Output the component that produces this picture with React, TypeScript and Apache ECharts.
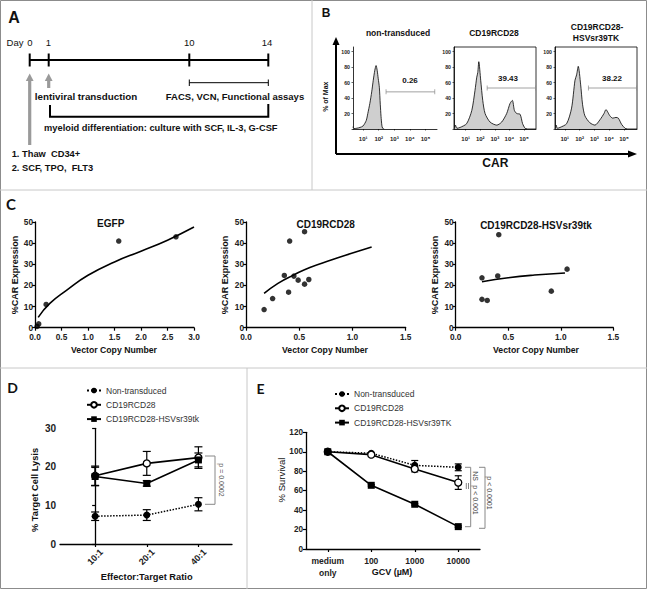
import React, { useEffect, useRef } from "react";
import * as echarts from "echarts";

const FONT = "'Liberation Sans', Arial, Helvetica, sans-serif";
const FONT2 = "Lato, 'Open Sans', sans-serif";

// ---------- Panel B: histograms [log10(CAR), % of Max] ----------
const histNonTransduced = [
  [0.35, 3], [0.4, 0.5], [0.6, 1], [0.8, 2], [1.0, 4], [1.2, 11], [1.3, 20], [1.43, 33],
  [1.55, 48], [1.65, 63], [1.75, 76], [1.83, 82], [1.9, 76], [1.97, 65], [2.04, 54],
  [2.1, 32], [2.15, 16], [2.2, 5], [2.25, 1], [2.35, 0],
];
const histCD19RCD28 = [
  [0.22, 0], [0.3, 5], [0.4, 1], [0.62, 2], [1.07, 7], [1.42, 24], [1.64, 50], [1.76, 67],
  [1.83, 73], [1.9, 87], [2.03, 63], [2.17, 37], [2.33, 20], [2.67, 9], [3.13, 5], [3.47, 9],
  [3.81, 20], [4.04, 33], [4.2, 37], [4.34, 24], [4.5, 20], [4.73, 19], [4.9, 7], [5.07, 1], [5.2, 0],
];
const histHSV = [
  [0.36, 0], [0.42, 5], [0.5, 1], [0.68, 2], [1.13, 7], [1.46, 27], [1.69, 63], [1.8, 70],
  [1.91, 81], [2.07, 58], [2.2, 32], [2.36, 17], [2.7, 8], [3.04, 5], [3.38, 12], [3.65, 20],
  [3.78, 25], [4.05, 17], [4.24, 14], [4.46, 15], [4.62, 14], [4.84, 6], [5.07, 1], [5.2, 0],
];
const histTicks = [1, 2, 3, 4, 5];
const histTickLabels = ["10¹", "10²", "10³", "10⁴", "10⁵"];
const histYLabels = [20, 40, 60, 80, 100];
const gateNon = [[2.47, 48], [5.6, 48]];
const gateCD = [[2.47, 53], [5.78, 53]];
const gateHSV = [[2.59, 53], [5.86, 53]];
const gateValues = ["0.26", "39.43", "38.22"];

// ---------- Panel C: %CAR vs vector copy number ----------
const egfpPoints = [[0.04, 0.6], [0.07, 1.8], [0.21, 11], [1.58, 41], [2.66, 43]];
const egfpFit = [[0.06, 4.9], [0.28, 11.5], [0.6, 17.8], [1.0, 24.8], [1.5, 31.1], [2.0, 36.2], [2.5, 41.4], [3.0, 47.6]];
const cdPoints = [
  [0.17, 8.6], [0.25, 13.8], [0.36, 24.7], [0.45, 24.4], [0.41, 41], [0.4, 16.8],
  [0.49, 22.5], [0.55, 45.4], [0.55, 20.6], [0.59, 22.8],
];
const cdFit = [[0.17, 16.2], [0.3, 21], [0.45, 25], [0.6, 28.5], [0.8, 32], [1.0, 35.3], [1.18, 38.2]];
const hsvPoints = [[0.25, 23.6], [0.25, 13.4], [0.3, 12.9], [0.4, 24.5], [0.41, 44], [0.91, 17.3], [1.06, 27.7]];
const hsvFit = [[0.25, 21.7], [0.5, 23.6], [0.75, 24.9], [1.04, 25.9]];

// ---------- Panel D: target cell lysis ----------
const ratioLabels = ["10:1", "20:1", "40:1"];
const dNon = [7.2, 7.5, 10.3];
const dNonErr = [1.1, 1.4, 1.7];
const dCD = [17.7, 20.9, 22.4];
const dCDErr = [2.5, 3.1, 2.8];
const dHSV = [17.5, 15.7, 21.8];
const dHSVErr = [2.4, 0.7, 1.8];

// ---------- Panel E: survival vs GCV ----------
const gcvLabels = ["medium\nonly", "100", "1000", "10000"];
const eNon = [100, 98.5, 86, 84];
const eNonErr = [0, 0, 5, 3.5];
const eCD = [100, 97, 82.3, 68.3];
const eCDErr = [0, 0, 3, 7];
const eHSV = [100, 65.5, 46, 23];
const eHSVErr = [0, 0.8, 0.8, 0.8];

const legendD = ["Non-transduced", "CD19RCD28", "CD19RCD28-HSVsr39tk"];
const legendE = ["Non-transduced", "CD19RCD28", "CD19RCD28-HSVsr39TK"];

function T(text: string, x: number, y: number, size: number, o: any = {}) {
  return {
    type: "text",
    x,
    y,
    rotation: o.rot || 0,
    silent: true,
    style: {
      text,
      fontSize: size,
      fontWeight: o.bold === false ? "normal" : "bold",
      fontFamily: o.family || FONT,
      fill: o.fill || "#111",
      align: o.align || "center",
      verticalAlign: "middle",
    },
  };
}
function L(x1: number, y1: number, x2: number, y2: number, w = 1, c = "#000") {
  return { type: "line", silent: true, shape: { x1, y1, x2, y2 }, style: { stroke: c, lineWidth: w } };
}
function PL(points: number[][], w = 1, c = "#000") {
  return { type: "polyline", silent: true, shape: { points }, style: { stroke: c, lineWidth: w, fill: "none" } };
}
function PG(points: number[][], c = "#000") {
  return { type: "polygon", silent: true, shape: { points }, style: { fill: c } };
}

function errorSeries(xi: number, vals: number[], errs: number[], w: number) {
  return {
    type: "custom",
    xAxisIndex: xi,
    yAxisIndex: xi,
    silent: true,
    z: 1,
    encode: { x: 0, y: 1 },
    data: vals.map((v, i) => [i, v, errs[i]]),
    renderItem: (params: any, api: any) => {
      const x = api.value(0);
      const y = api.value(1);
      const e = api.value(2);
      if (!e) return { type: "group", children: [] };
      const hi = api.coord([x, y + e]);
      const lo = api.coord([x, y - e]);
      const st = { stroke: "#000", lineWidth: 1.2 };
      return {
        type: "group",
        children: [
          { type: "line", shape: { x1: hi[0], y1: hi[1], x2: lo[0], y2: lo[1] }, style: st },
          { type: "line", shape: { x1: hi[0] - w, y1: hi[1], x2: hi[0] + w, y2: hi[1] }, style: st },
          { type: "line", shape: { x1: lo[0] - w, y1: lo[1], x2: lo[0] + w, y2: lo[1] }, style: st },
        ],
      };
    },
  };
}

export default function App() {
  const ref = useRef<HTMLDivElement>(null);
  useEffect(() => {
    if (!ref.current) return;
    const chart = echarts.init(ref.current, null, { renderer: "svg" });

    const histGrid = (left: number, width: number, box: boolean) => ({
      left, top: 47, width, height: 82, show: box, borderColor: "#000", borderWidth: 0.8,
      backgroundColor: "transparent", outerBoundsMode: "none",
    });
    const histX = (gi: number, min: number, max: number) => ({
      type: "value", gridIndex: gi, min, max,
      axisLine: { show: true, lineStyle: { color: "#000", width: 0.8 } },
      axisTick: { show: true, length: 1.5, customValues: histTicks, lineStyle: { color: "#000", width: 0.6 } },
      axisLabel: {
        customValues: histTicks, margin: 7, fontSize: 6, fontWeight: "bold", fontFamily: FONT, color: "#222",
        formatter: (v: number) => histTickLabels[histTicks.indexOf(Math.round(v))] || "",
      },
      splitLine: { show: false },
    });
    const histY = (gi: number) => ({
      type: "value", gridIndex: gi, min: 0, max: 106,
      axisLine: { show: true, lineStyle: { color: "#000", width: 0.8 } },
      axisTick: { show: true, length: 1.5, customValues: [0, ...histYLabels], lineStyle: { color: "#000", width: 0.6 } },
      axisLabel: { customValues: histYLabels, margin: 3, fontSize: 5.2, fontWeight: "bold", fontFamily: FONT, color: "#222" },
      splitLine: { show: false },
    });

    const axLine = { show: true, lineStyle: { color: "#000", width: 1.3 } };
    const axTick = { show: true, length: 3, lineStyle: { color: "#000", width: 1.2 } };
    const cGrid = (left: number, width: number) => ({ left, top: 222, width, height: 105.7, outerBoundsMode: "none" });
    const cX = (gi: number, max: number) => ({
      type: "value", gridIndex: gi, min: 0, max, interval: 0.5,
      axisLine: axLine, axisTick: axTick, splitLine: { show: false },
      axisLabel: { fontSize: 8.3, fontWeight: "bold", fontFamily: FONT, color: "#222", margin: 5, formatter: (v: number) => v.toFixed(1) },
    });
    const cY = (gi: number) => ({
      type: "value", gridIndex: gi, min: 0, max: 50, interval: 10,
      axisLine: axLine, axisTick: axTick, splitLine: { show: false },
      axisLabel: { fontSize: 8.3, fontWeight: "bold", fontFamily: FONT, color: "#222", margin: 2 },
    });

    const histSeries = (gi: number, data: number[][]) => ({
      type: "line", xAxisIndex: gi, yAxisIndex: gi, data, symbol: "none", smooth: 0.25,
      lineStyle: { color: "#000", width: 0.8 }, areaStyle: { color: "#cfcfcf", opacity: 1 }, silent: true,
    });
    const gateSeries = (gi: number, data: number[][]) => ({
      type: "line", xAxisIndex: gi, yAxisIndex: gi, data, symbol: "rect", symbolSize: [0.7, 5],
      lineStyle: { color: "#8a8a8a", width: 0.8 }, itemStyle: { color: "#8a8a8a" }, silent: true,
    });
    const scatterSeries = (gi: number, data: number[][]) => ({
      type: "scatter", xAxisIndex: gi, yAxisIndex: gi, data, symbolSize: 5.5, itemStyle: { color: "#000" }, silent: true, z: 3,
    });
    const fitSeries = (gi: number, data: number[][]) => ({
      type: "line", xAxisIndex: gi, yAxisIndex: gi, data, symbol: "none", smooth: true,
      lineStyle: { color: "#000", width: 1.6 }, silent: true,
    });

    const nonStyle = {
      symbol: "circle", symbolSize: 7, itemStyle: { color: "#000" },
      lineStyle: { color: "#000", width: 1.5, type: "dotted" },
    };
    const cdStyle = {
      symbol: "circle", symbolSize: 7, itemStyle: { color: "#fff", borderColor: "#000", borderWidth: 1.3 },
      lineStyle: { color: "#000", width: 1.6 },
    };
    const hsvStyle = {
      symbol: "rect", symbolSize: 7, itemStyle: { color: "#000" },
      lineStyle: { color: "#000", width: 1.6 },
    };

    const graphics: any[] = [
      // frame
      { type: "rect", silent: true, shape: { x: 0.5, y: 0.5, width: 646, height: 588 }, style: { stroke: "#8c8c8c", fill: "none", lineWidth: 1 } },
      L(0, 190, 647, 190, 1, "#c8c8c8"),
      L(312, 0, 312, 190, 1, "#c8c8c8"),
      L(0, 368, 647, 368, 1, "#c8c8c8"),
      L(247, 368, 247, 589, 1, "#c8c8c8"),
      // Panel A
      T("A", 14, 17, 16),
      T("Day", 15, 42.7, 9.5, { bold: false }),
      T("0", 30, 42.7, 9.5, { bold: false }),
      T("1", 48.5, 42.7, 9.5, { bold: false }),
      T("10", 189.3, 42.7, 9.5, { bold: false }),
      T("14", 267, 42.7, 9.5, { bold: false }),
      L(29.5, 60, 268.5, 60, 2.2),
      L(29.7, 53.5, 29.7, 66.5, 2),
      L(48.7, 53.5, 48.7, 66.5, 2),
      L(189.3, 53.5, 189.3, 66.5, 2),
      L(268.3, 53.5, 268.3, 66.5, 2),
      L(29.7, 145, 29.7, 80, 3.2, "#9a9a9a"),
      PG([[25.8, 81], [33.6, 81], [29.7, 73.5]], "#9a9a9a"),
      L(48.7, 88, 48.7, 80, 3.2, "#9a9a9a"),
      PG([[44.8, 81], [52.6, 81], [48.7, 73.5]], "#9a9a9a"),
      L(189.3, 82.7, 268.3, 82.7, 1),
      L(189.3, 79.5, 189.3, 86, 1),
      L(268.3, 79.5, 268.3, 86, 1),
      T("lentiviral transduction", 86, 96, 9.8),
      T("FACS, VCN, Functional assays", 235, 96, 9.5),
      PL([[50, 105], [50, 116.7], [268.3, 116.7], [268.3, 104]], 2),
      T("myeloid differentiation: culture with SCF, IL-3, G-CSF", 160.8, 127.7, 9.3),
      T("1. Thaw  CD34+", 11.7, 154, 9.3, { align: "left" }),
      T("2. SCF, TPO,  FLT3", 11.7, 168.3, 9.3, { align: "left" }),
      // Panel B
      T("B", 326, 13, 12),
      T("non-transduced", 398, 33.3, 8.5),
      T("CD19RCD28", 494, 33.3, 8.5),
      T("CD19RCD28-", 597, 26.7, 8.5),
      T("HSVsr39TK", 596, 37.7, 8.5),
      L(336, 154, 336, 44, 2),
      PG([[332.5, 45], [339.5, 45], [336, 37]]),
      L(336, 154, 629, 154, 2),
      PG([[628, 150.5], [628, 157.5], [637, 154]]),
      T("% of Max", 325, 96.7, 7, { rot: Math.PI / 2 }),
      T("CAR", 495.3, 163.3, 12),
      T(gateValues[0], 410, 80, 8),
      T(gateValues[1], 508, 78, 8),
      T(gateValues[2], 612, 78, 8),
      // Panel C
      T("C", 11, 204, 15, { family: FONT2 }),
      T("EGFP", 110.7, 223, 10),
      T("CD19RCD28", 325.7, 224, 10),
      T("CD19RCD28-HSVsr39tk", 536, 225, 10),
      T("%CAR Expression", 15, 275, 9, { rot: Math.PI / 2 }),
      T("%CAR Expression", 225, 275, 9, { rot: Math.PI / 2 }),
      T("%CAR Expression", 435, 275, 9, { rot: Math.PI / 2 }),
      T("Vector Copy Number", 114, 349.5, 8.7),
      T("Vector Copy Number", 325, 349.5, 8.7),
      T("Vector Copy Number", 536, 349.5, 8.7),
      // Panel D
      T("D", 12.5, 387.5, 14, { family: FONT2 }),
      T("% Target Cell Lysis", 35, 490, 9.3, { rot: Math.PI / 2 }),
      T("Effector:Target Ratio", 146.7, 576.7, 9.3),
      PL([[205, 456], [215, 456], [215, 504.3], [205, 504.3]], 1, "#888"),
      T("p = 0.0002", 221, 480, 7, { rot: -Math.PI / 2, bold: false, fill: "#555" }),
      // Panel E
      T("E", 260.5, 388.5, 14, { family: FONT2 }),
      T("% Survival", 281.7, 480, 9.5, { rot: Math.PI / 2, bold: false }),
      T("GCV (µM)", 392, 572, 9),
      PL([[465, 467.3], [470.7, 467.3], [470.7, 526.7], [465, 526.7]], 1, "#888"),
      PL([[479, 467.3], [485, 467.3], [485, 528.3], [479, 528.3]], 1, "#888"),
      L(466.3, 483, 466.3, 489, 0.8, "#666"),
      L(468.5, 483, 468.5, 489, 0.8, "#666"),
      T("NS", 475, 476, 7, { rot: -Math.PI / 2, bold: false, fill: "#444" }),
      T("p < 0.001", 475, 500, 7, { rot: -Math.PI / 2, bold: false, fill: "#444" }),
      T("p < 0.0001", 489.5, 493, 7, { rot: -Math.PI / 2, bold: false, fill: "#444" }),
    ];

    const option: any = {
      animation: false,
      backgroundColor: "#fff",
      textStyle: { fontFamily: FONT },
      grid: [
        histGrid(353, 84, false),
        histGrid(454, 82, true),
        histGrid(555, 82, true),
        cGrid(35, 159),
        cGrid(246, 159.7),
        cGrid(455.7, 157.6),
        { left: 60, top: 428.3, width: 172, height: 115.7, outerBoundsMode: "none" },
        { left: 306, top: 432.3, width: 174, height: 116.7, outerBoundsMode: "none" },
      ],
      xAxis: [
        histX(0, 0.35, 5.74),
        histX(1, 0.2, 5.82),
        histX(2, 0.34, 5.88),
        cX(3, 3),
        cX(4, 1.5),
        cX(5, 1.5),
        {
          type: "value", gridIndex: 6, min: -0.68, max: 2.65,
          axisLine: axLine, splitLine: { show: false },
          axisTick: { show: true, length: 3, customValues: [0, 1, 2], lineStyle: { color: "#000", width: 1.2 } },
          axisLabel: {
            customValues: [0, 1, 2], rotate: 45, margin: 13, align: "center", verticalAlign: "middle",
            fontSize: 9, fontWeight: "bold", fontFamily: FONT, color: "#222",
            formatter: (v: number) => ratioLabels[Math.round(v)] || "",
          },
        },
        {
          type: "category", gridIndex: 7, data: gcvLabels, boundaryGap: true,
          axisLine: axLine, splitLine: { show: false },
          axisTick: { show: true, length: 3, alignWithLabel: true, lineStyle: { color: "#000", width: 1.2 } },
          axisLabel: { interval: 0, margin: 6, fontSize: 8.5, fontWeight: "bold", fontFamily: FONT, color: "#222", lineHeight: 12 },
        },
      ],
      yAxis: [
        histY(0),
        histY(1),
        histY(2),
        cY(3),
        cY(4),
        cY(5),
        {
          type: "value", gridIndex: 6, min: 0, max: 30, interval: 10,
          axisLine: axLine, axisTick: axTick, splitLine: { show: false },
          axisLabel: { fontSize: 10, fontWeight: "bold", fontFamily: FONT, color: "#222", margin: 4 },
        },
        {
          type: "value", gridIndex: 7, min: 0, max: 120, interval: 20,
          axisLine: axLine, axisTick: axTick, splitLine: { show: false },
          axisLabel: { fontSize: 8.2, fontWeight: "bold", fontFamily: FONT, color: "#222", margin: 3 },
        },
      ],
      legend: [
        {
          left: 86, top: 386, padding: 0, orient: "vertical", itemGap: 5.3, itemWidth: 14, itemHeight: 7,
          textStyle: { fontSize: 8.5, fontFamily: FONT, color: "#333" }, data: legendD, selectedMode: false,
        },
        {
          left: 334, top: 389.5, padding: 0, orient: "vertical", itemGap: 5.3, itemWidth: 14, itemHeight: 7,
          textStyle: { fontSize: 8.5, fontFamily: FONT, color: "#333" }, data: legendE, selectedMode: false,
        },
      ],
      series: [
        histSeries(0, histNonTransduced),
        histSeries(1, histCD19RCD28),
        histSeries(2, histHSV),
        gateSeries(0, gateNon),
        gateSeries(1, gateCD),
        gateSeries(2, gateHSV),
        fitSeries(3, egfpFit),
        scatterSeries(3, egfpPoints),
        fitSeries(4, cdFit),
        scatterSeries(4, cdPoints),
        fitSeries(5, hsvFit),
        scatterSeries(5, hsvPoints),
        errorSeries(6, dNon, dNonErr, 4),
        errorSeries(6, dCD, dCDErr, 4),
        errorSeries(6, dHSV, dHSVErr, 4),
        { name: legendD[0], type: "line", xAxisIndex: 6, yAxisIndex: 6, data: dNon.map((v, i) => [i, v]), z: 3, ...nonStyle },
        { name: legendD[1], type: "line", xAxisIndex: 6, yAxisIndex: 6, data: dCD.map((v, i) => [i, v]), z: 3, ...cdStyle },
        { name: legendD[2], type: "line", xAxisIndex: 6, yAxisIndex: 6, data: dHSV.map((v, i) => [i, v]), z: 3, ...hsvStyle },
        errorSeries(7, eNon, eNonErr, 3.5),
        errorSeries(7, eCD, eCDErr, 3.5),
        errorSeries(7, eHSV, eHSVErr, 3.5),
        { name: legendE[0], type: "line", xAxisIndex: 7, yAxisIndex: 7, data: eNon, z: 3, ...nonStyle },
        { name: legendE[1], type: "line", xAxisIndex: 7, yAxisIndex: 7, data: eCD, z: 3, ...cdStyle },
        { name: legendE[2], type: "line", xAxisIndex: 7, yAxisIndex: 7, data: eHSV, z: 3, ...hsvStyle },
      ],
      graphic: { elements: graphics },
    };
    chart.setOption(option);
    return () => chart.dispose();
  }, []);
  return (
    <div
      ref={ref}
      style={{ position: "absolute", left: 0, top: 0, width: 647, height: 589, background: "#fff" }}
    />
  );
}
